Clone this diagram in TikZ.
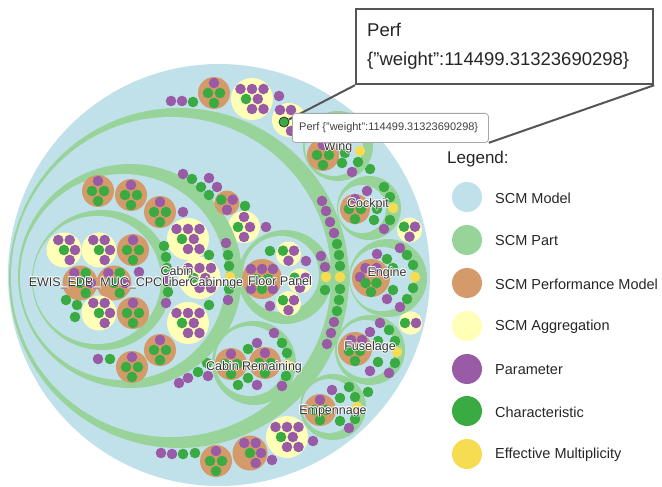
\documentclass[tikz,border=0pt]{standalone}
\usepackage{fontspec}
\setmainfont{Liberation Sans}
\definecolor{cModel}{HTML}{C1E1EA}
\definecolor{cPart}{HTML}{98D49A}
\definecolor{cPerf}{HTML}{D49A6A}
\definecolor{cAgg}{HTML}{FFFFB8}
\definecolor{cPar}{HTML}{9A5BA6}
\definecolor{cChar}{HTML}{3AAA42}
\definecolor{cMult}{HTML}{F5DC50}
\definecolor{cLine}{HTML}{555555}
% leaf dots
\newcommand\parDot[2]{\fill[cPar] (#1,#2) circle (5.3);}
\newcommand\chrDot[2]{\fill[cChar] (#1,#2) circle (5.3);}
\newcommand\mulDot[2]{\fill[cMult] (#1,#2) circle (5.3);}
% part = green circle with its child model (blue) inside
\newcommand\partRing[6]{\fill[cPart] (#1,#2) circle (#3);\fill[cModel] (#4,#5) circle (#6);}
% performance models and aggregations with their leaves
\newcommand\perfFour[2]{\begin{scope}[shift={(#1,#2)}]\fill[cPerf] (0,0) circle (16);
  \parDot{0}{-10}\chrDot{-6}{0}\chrDot{6}{0}\chrDot{0}{10}\end{scope}}
\newcommand\perfFive[2]{\begin{scope}[shift={(#1,#2)}]\fill[cPerf] (0,0) circle (17.5);
  \parDot{-5.7}{-10}\parDot{5.7}{-10}\chrDot{0}{0}\parDot{11}{0}\parDot{5.7}{10}\end{scope}}
\newcommand\perfFiveB[2]{\begin{scope}[shift={(#1,#2)}]\fill[cPerf] (0,0) circle (17.5);
  \parDot{-5.7}{-10}\chrDot{5.7}{-10}\chrDot{0}{0}\parDot{11}{0}\chrDot{5.7}{10}\end{scope}}
\newcommand\perfThree[2]{\begin{scope}[shift={(#1,#2)}]\fill[cPerf] (0,0) circle (12.5);
  \chrDot{-5.7}{-3.3}\parDot{5.7}{-3.3}\parDot{0}{6.7}\end{scope}}
\newcommand\perfEight[2]{\begin{scope}[shift={(#1,#2)}]\fill[cPerf] (0,0) circle (20);
  \parDot{-11}{-10}\parDot{0}{-10}\parDot{11}{-10}\chrDot{-6}{0}\chrDot{6}{0}
  \parDot{-11}{10}\chrDot{0}{10}\parDot{11}{10}\end{scope}}
\newcommand\aggSeven[2]{\begin{scope}[shift={(#1,#2)}]\fill[cAgg] (0,0) circle (21);
  \parDot{-11.5}{-10}\parDot{0}{-10}\parDot{11.5}{-10}\chrDot{-6}{0}\parDot{5.8}{0}
  \parDot{0}{10}\parDot{11.5}{10}\end{scope}}
\newcommand\aggFive[2]{\begin{scope}[shift={(#1,#2)}]\fill[cAgg] (0,0) circle (17.5);
  \parDot{-5.7}{-10}\parDot{5.7}{-10}\chrDot{0}{0}\parDot{11}{0}\parDot{5.7}{10}\end{scope}}
\newcommand\aggFour[2]{\begin{scope}[shift={(#1,#2)}]\fill[cAgg] (0,0) circle (16);
  \parDot{0}{-10}\chrDot{-6}{0}\parDot{6}{0}\parDot{0}{10}\end{scope}}
\newcommand\aggThree[2]{\begin{scope}[shift={(#1,#2)}]\fill[cAgg] (0,0) circle (12.5);
  \chrDot{-5.5}{-3.3}\parDot{5.5}{-3.3}\parDot{0}{6.7}\end{scope}}
\newcommand\aggTwo[2]{\begin{scope}[shift={(#1,#2)}]\fill[cAgg] (0,0) circle (11.7);
  \chrDot{-5.5}{0}\parDot{5.5}{0}\end{scope}}
% haloed circle label
\newcommand\nodeLabel[4]{%
  \foreach \hx/\hy in {-0.8/0,0.8/0,0/-0.8,0/0.8,-0.6/-0.6,0.6/0.6,-0.6/0.6,0.6/-0.6}{%
    \node[lblhalo,xshift=\hx pt,yshift=\hy pt] at (#2,#3) {#4};}
  \node[lbl] (#1) at (#2,#3) {#4};}
\begin{document}
\begin{tikzpicture}[x=1pt,y=-1pt,
  lbl/.style={inner sep=0pt,font=\fontsize{12.5}{14}\selectfont,text=black!80},
  lblhalo/.style={lbl,text=white,opacity=0.85},
  tipbox/.style={draw=black!35,fill=white,rounded corners=3pt,line width=0.8pt,
    inner sep=0pt,anchor=north west},
  calloutbox/.style={draw=cLine,fill=white,line width=2.2pt,inner sep=0pt,anchor=north west},
  calloutline/.style={draw=cLine,line width=2pt},
  legdot/.style={circle,inner sep=0pt,minimum size=30pt},
  legtxt/.style={anchor=west,inner sep=0pt,font=\fontsize{14.5}{16}\selectfont,text=black!85}]
\useasboundingbox (0,0) rectangle (662,487);
\fill[white] (0,0) rectangle (662,487);

% ---- root model ----
\fill[cModel] (219,275) circle (211);

% root leaves, top
\parDot{171}{101}\parDot{182}{101}\chrDot{193}{102}
\perfFour{214}{93}
\aggSeven{252}{99}
\parDot{279}{96}
\fill[cAgg] (289,120) circle (17);
\parDot{280}{110}\parDot{291}{110}\parDot{291}{131}
% root leaves, bottom
\parDot{161}{453}\parDot{172}{454}\chrDot{183}{454}\chrDot{195}{453}
\perfFour{216}{461}
\perfFive{250}{453}
\parDot{272}{460}
\aggSeven{287}{437}
\parDot{313}{441}
% root leaves, right
\aggThree{409.5}{230}
\aggTwo{410.5}{323}
\chrDot{370}{169}
\chrDot{368}{392}

% ---- large unnamed part ----
\partRing{179}{278}{170}{171}{277}{160}
\parDot{322}{201}\parDot{326}{211}\parDot{330}{222}\parDot{334}{233}
\chrDot{337}{244}\chrDot{339}{255}\chrDot{340}{266}\mulDot{340}{277}
\chrDot{340}{289}\chrDot{339}{300}\chrDot{337}{311}
\parDot{334}{322}\parDot{331}{333}\parDot{327}{344}
% leaves of its model
\chrDot{245}{206}
\aggFour{244}{227}
\parDot{266}{227}
\parDot{179}{383}\parDot{188}{378}\chrDot{198}{372}\parDot{208}{376}\chrDot{207}{363}

% ---- Cabin ----
\partRing{130}{276}{112}{123}{277}{103}
\parDot{183}{174}\chrDot{192}{179}\chrDot{201}{187}\parDot{209}{178}\parDot{217}{187}\chrDot{209}{195}
\perfThree{227}{203}
\parDot{226}{243}\chrDot{228}{255}\chrDot{229}{266}\mulDot{230}{277}\chrDot{229}{289}\parDot{228}{300}
% Cabin model content
\perfFour{98}{191}
\perfFour{131}{195}
\perfFour{160}{212}
\parDot{183}{212}
\aggSeven{188}{239}
\aggSeven{199.5}{278}
\chrDot{209}{255}\chrDot{209}{305}
\aggSeven{188}{323}
\perfFour{160}{350}
\perfFour{132}{367}
\parDot{98}{359}\chrDot{110}{359}

% ---- EWIS ----
\partRing{102}{280}{70}{97}{280}{64}
\chrDot{164}{246}\chrDot{166}{257}\chrDot{167}{268}\parDot{167}{280}\chrDot{168}{292}\parDot{166}{303}
\aggFive{64}{250}
\aggFive{99}{250}
\perfFour{133}{250}
\perfFiveB{80}{283}
\perfFiveB{114}{283}
\parDot{139}{272}
\chrDot{66}{300}\chrDot{77}{305}\chrDot{75}{317}
\aggFive{99}{313}
\perfFour{133}{313}

% ---- Floor Panel ----
\partRing{285}{277}{47}{281}{274}{38}
\perfEight{262}{279}
\chrDot{270}{251}
\aggThree{288.5}{254}
\parDot{306}{261}
\aggThree{300}{281}
\aggThree{288.5}{303.5}
\parDot{270}{306}
\parDot{321}{256}\parDot{325}{267}\mulDot{326}{277}\chrDot{325}{290}

% ---- Cabin Remaining ----
\partRing{254}{363}{42}{250}{361}{35}
\perfFour{231}{364}
\perfFour{265}{363}
\chrDot{248}{349}\parDot{257}{343}\parDot{274}{333}\chrDot{282}{343}\chrDot{287}{353}
\mulDot{288}{365}\chrDot{286}{376}\parDot{282}{386}\parDot{257}{385}\chrDot{248}{378}\chrDot{238}{385}

% ---- Wing ----
\partRing{338}{146}{35}{334}{147}{29}
\perfFour{323}{155}
\chrDot{345}{153}\mulDot{360}{151}\chrDot{358}{162}\chrDot{342}{163}\parDot{352}{172}

% ---- Cockpit ----
\partRing{369}{208}{32}{362}{209}{24}
\begin{scope}[shift={(355,209)}]\fill[cPerf] (0,0) circle (15);
  \parDot{0}{-10}\chrDot{-6}{0}\chrDot{6}{0}\chrDot{0}{10}\end{scope}
\parDot{367}{191}\chrDot{384}{187}\chrDot{390}{197}\mulDot{393}{208}\chrDot{390}{220}
\parDot{384}{229}\chrDot{374}{220}\chrDot{377}{209}

% ---- Engine ----
\partRing{388}{278}{39}{382}{279}{32}
\begin{scope}[shift={(371,278)}]\fill[cPerf] (0,0) circle (19);
  \parDot{-5.5}{-10}\parDot{5.5}{-10}\parDot{-11}{-1}\chrDot{-5.5}{5}\chrDot{5.5}{5}\chrDot{0}{14}\end{scope}
\parDot{377}{254}\chrDot{387}{259}\parDot{400}{248}\chrDot{407}{255}\chrDot{413}{265}
\mulDot{415}{277}\chrDot{413}{288}\chrDot{407}{299}\parDot{400}{307}\parDot{387}{299}
\chrDot{393}{290}\chrDot{393}{268}

% ---- Fuselage ----
\partRing{370}{350}{35}{366}{349}{29}
\begin{scope}[shift={(355,349)}]\fill[cPerf] (0,0) circle (17);
  \parDot{-4}{-9}\parDot{7}{-9}\chrDot{-6}{2}\chrDot{5}{2}\chrDot{0}{12}\end{scope}
\parDot{380}{323}\parDot{370}{332}\chrDot{389}{330}\chrDot{395}{341}\mulDot{397}{352}
\chrDot{395}{363}\parDot{389}{373}\parDot{370}{371}\chrDot{378}{362}\chrDot{378}{341}

% ---- Empennage ----
\partRing{333}{407}{33}{329}{406}{27}
\perfFour{320}{410}
\parDot{332}{390}\chrDot{340}{398}\chrDot{349}{387}\chrDot{355}{397}\mulDot{357}{407}
\chrDot{355}{419}\parDot{349}{428}\chrDot{340}{421}

% ---- labels ----
\nodeLabel{lWing}{338}{147}{Wing}
\nodeLabel{lCockpit}{368}{204}{Cockpit}
\nodeLabel{lEngine}{387}{273}{Engine}
\nodeLabel{lFuselage}{370}{347}{Fuselage}
\nodeLabel{lEmpennage}{333}{411}{Empennage}
\nodeLabel{lCabinRem}{254}{367}{Cabin Remaining}
\nodeLabel{lCabin}{177}{271}{Cabin}
\nodeLabel{lEwis}{100}{283}{EWIS\_EDB\_MUC\_CPCU}
\nodeLabel{lFiber}{206}{283}{iberCabinnge}
\nodeLabel{lFloor}{280}{281}{Floor Panel}

% ---- hover tooltip and its enlarged callout ----
\node[circle,fill=cChar,draw=black!80,line width=0.8pt,inner sep=0pt,minimum size=10pt] (hov) at (284,122) {};
\node[calloutbox,minimum width=297pt,minimum height=75pt] (call) at (355,8) {};
\draw[calloutline] (call.south west) -- (hov);
\node[tipbox,minimum width=196pt,minimum height=29pt] (tip) at (292,113) {};
\draw[calloutline] (call.south east) -- (tip.south east);
\node[anchor=west,inner sep=0pt,font=\fontsize{11}{12}\selectfont,text=black!75] (tiptxt)
  at (299,128) {Perf \{"weight":114499.31323690298\}};
\node[anchor=north west,inner sep=0pt,align=left,font=\fontsize{18.5}{29}\selectfont,text=black!85] (calltxt)
  at (367,23) {Perf\\\{"weight":114499.31323690298\}};

% ---- legend ----
\node[anchor=west,inner sep=0pt,font=\fontsize{17}{19}\selectfont,text=black!85] (legTitle) at (447,159) {Legend:};
\node[legdot,fill=cModel] (lgModel) at (467,197) {};
\node[legtxt] at (495,198) {SCM Model};
\node[legdot,fill=cPart] (lgPart) at (467,240) {};
\node[legtxt] at (495,241) {SCM Part};
\node[legdot,fill=cPerf] (lgPerf) at (467,283) {};
\node[legtxt] at (495,284) {SCM Performance Model};
\node[legdot,fill=cAgg] (lgAgg) at (467,326) {};
\node[legtxt] at (495,327) {SCM Aggregation};
\node[legdot,fill=cPar] (lgPar) at (467,369) {};
\node[legtxt] at (495,370) {Parameter};
\node[legdot,fill=cChar] (lgChar) at (467,411) {};
\node[legtxt] at (495,412) {Characteristic};
\node[legdot,fill=cMult] (lgMult) at (467,454) {};
\node[legtxt] at (495,455) {Effective Multiplicity};
\end{tikzpicture}
\end{document}
